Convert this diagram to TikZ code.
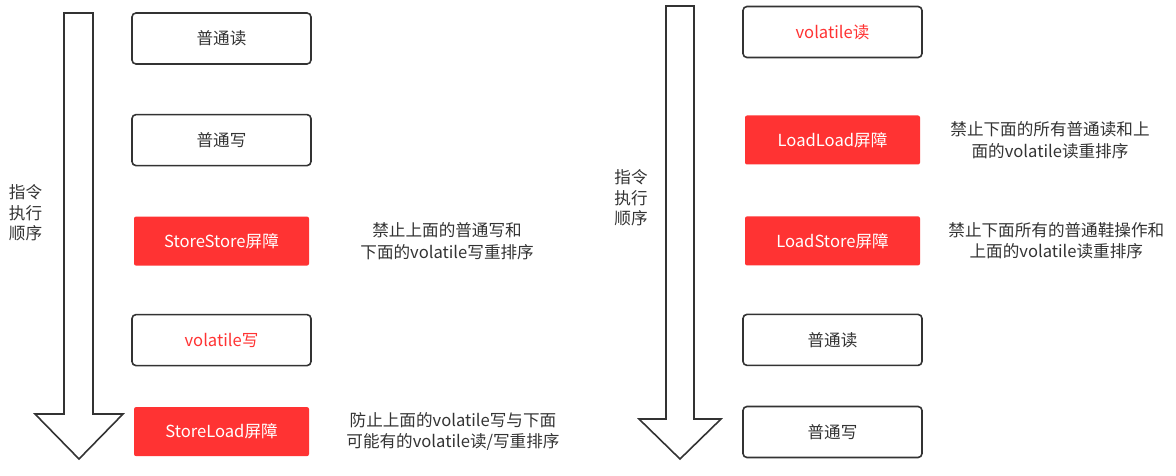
\documentclass[tikz,border=0pt]{standalone}
\usepackage{fontspec}
\setmainfont{Noto Sans CJK SC}
\usepackage{xcolor}
\usepackage{tikz}
\usetikzlibrary{positioning}
\definecolor{barred}{RGB}{255,51,51}
\definecolor{inkgrey}{RGB}{51,51,51}

\begin{document}
\begin{tikzpicture}[
  x=1pt, y=-1pt,
  font=\fontsize{16.6}{21.5}\selectfont,
  op/.style={draw=inkgrey, line width=1.6pt, rounded corners=4pt, fill=white, text=inkgrey,
             minimum width=179pt, minimum height=51pt, inner sep=0pt},
  vop/.style={op, text=barred},
  barrier/.style={fill=barred, rounded corners=2pt, text=white,
                  minimum width=175pt, minimum height=49pt, inner sep=0pt},
  note/.style={align=center, text=inkgrey, inner sep=0pt},
  order/.style={align=left, text=inkgrey, inner sep=0pt, font=\fontsize{16.6}{20.5}\selectfont},
  flow/.style={draw=inkgrey, line width=1.6pt, fill=white, line join=miter}
]
\useasboundingbox (0,0) rectangle (1176,476);
% execution-order arrows
\draw[flow] (64,13) -- (93,13) -- (93,414) -- (123,414) -- (79,459) -- (35,414) -- (64,414) -- cycle;
\draw[flow] (666,6) -- (694,6) -- (694,419) -- (721,419) -- (680,459) -- (639,419) -- (666,419) -- cycle;
\node[order] (lord) at (25.5,213) {指令\\执行\\顺序};
\node[order] (rord) at (631,198) {指令\\执行\\顺序};
% volatile write
\node[op] (lrd) at (221.5,38.5) {普通读};
\node[op, below=49pt of lrd] (lwr) {普通写};
\node[barrier, below=50pt of lwr] (ss) {StoreStore屏障};
\node[vop, below=48pt of ss] (lvw) {volatile写};
\node[barrier, below=40.5pt of lvw] (sl) {StoreLoad屏障};
\node[note, right=51pt of ss] (ssn) {禁止上面的普通写和\\下面的volatile写重排序};
\node[note, right=37pt of sl] (sln) {防止上面的volatile写与下面\\可能有的volatile读/写重排序};
% volatile read
\node[vop] (rvr) at (832.5,32) {volatile读};
\node[barrier, below=57pt of rvr] (ll) {LoadLoad屏障};
\node[barrier, below=51.5pt of ll] (ls) {LoadStore屏障};
\node[op, below=48pt of ls] (rrd) {普通读};
\node[op, below=39.5pt of rrd] (rwr) {普通写};
\node[note, right=30pt of ll] (lln) {禁止下面的所有普通读和上\\面的volatile读重排序};
\node[note, right=28pt of ls] (lsn) {禁止下面所有的普通鞋操作和\\上面的volatile读重排序};
\end{tikzpicture}
\end{document}
